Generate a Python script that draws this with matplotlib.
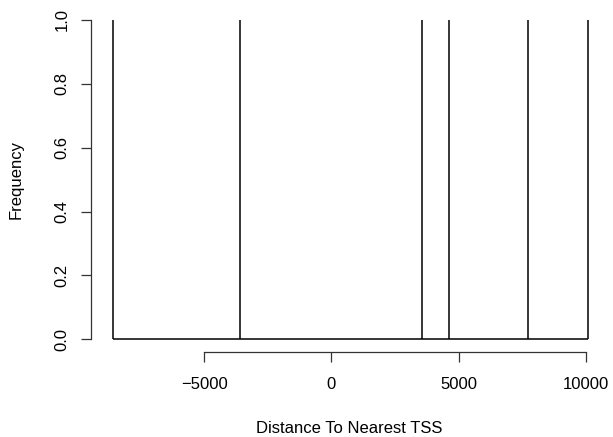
import numpy as np
import matplotlib
matplotlib.use("Agg")
import matplotlib.pyplot as plt

# bin edges, each bin holds one count
edges = [-8577, -3594, 3563, 4625, 7743, 10090]
counts = [1, 1, 1, 1, 1]
xticks = [-5000, 0, 5000, 10000]
yticks = [0.0, 0.2, 0.4, 0.6, 0.8, 1.0]

plt.rcParams['font.family'] = ['Liberation Sans', 'DejaVu Sans']
W, H = 613, 437
fig = plt.figure(figsize=(W/100, H/100), dpi=100)
ax = fig.add_axes([91/W, (H-352.1)/H, (607-91)/W, (352.1-7.2)/H])

# outline-only histogram (no top edges visible at y=1)
ax.vlines(edges, 0, max(counts), color='black', lw=1.1)
ax.hlines(0, edges[0], edges[-1], color='black', lw=1.1)

ax.set_xlim(-9453, 10838)
ax.set_ylim(-0.04, 1.04)

for s in ['top', 'right']:
    ax.spines[s].set_visible(False)
ax.spines['bottom'].set_bounds(xticks[0], xticks[-1])
ax.spines['left'].set_bounds(0, 1)
for s in ['bottom', 'left']:
    ax.spines[s].set_linewidth(0.9)
    ax.spines[s].set_color('#333333')

ax.set_xticks(xticks)
ax.set_xticklabels(['\u22125000', '0', '5000', '10000'])
ax.set_yticks(yticks)
ax.set_yticklabels(['0.0', '0.2', '0.4', '0.6', '0.8', '1.0'], rotation=90, va='center')
ax.tick_params(axis='x', direction='out', length=7.5, width=0.9, color='#333333', labelsize=12, pad=10.5)
ax.tick_params(axis='y', direction='out', length=7.5, width=0.9, color='#333333', labelsize=12, pad=8)

ax.set_xlabel('Distance To Nearest TSS', fontsize=12, labelpad=20.5)
ax.set_ylabel('Frequency', fontsize=12, labelpad=22)

fig.savefig('out.png', dpi=100)
